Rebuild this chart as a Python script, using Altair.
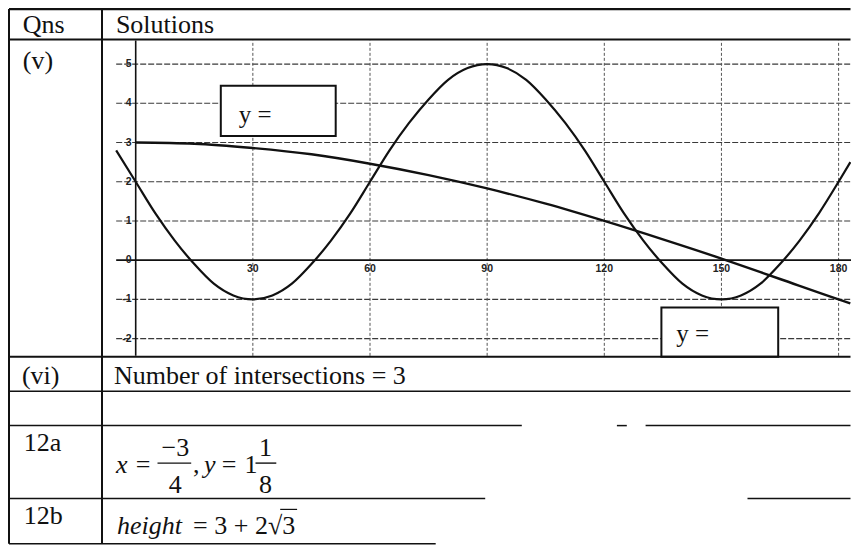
import altair as alt
import pandas as pd

# ---- values ----
sine_x = [-5, 0, 5, 10, 15, 20, 25, 30, 35, 40, 45, 50, 55, 60, 65, 70, 75, 80, 85, 90,
          95, 100, 105, 110, 115, 120, 125, 130, 135, 140, 145, 150, 155, 160, 165, 170,
          175, 180, 183]
sine_y = [2.8, 2.0, 1.2, 0.5, -0.1, -0.6, -0.9, -1.0, -0.9, -0.6, -0.1, 0.5, 1.2, 2.0,
          2.8, 3.5, 4.1, 4.6, 4.9, 5.0, 4.9, 4.6, 4.1, 3.5, 2.8, 2.0, 1.2, 0.5, -0.1,
          -0.6, -0.9, -1.0, -0.9, -0.6, -0.1, 0.5, 1.2, 2.0, 2.5]
curve_x = [0, 15, 30, 45, 60, 75, 90, 105, 120, 135, 150, 165, 180, 183]
curve_y = [3.0, 2.97, 2.86, 2.7, 2.46, 2.17, 1.83, 1.44, 1.0, 0.53, 0.04, -0.48, -1.0, -1.1]

x_ticks = [30, 60, 90, 120, 150, 180]
x_tick_labels = ["30", "60", "90", "120", "150", "180"]
y_ticks = [5, 4, 3, 2, 1, 0, -1, -2]
y_tick_labels = ["5", "4", "3", "2", "1", "0", "-1", "-2"]

# ---- page layout (scan geometry) ----
W, H = 843, 538


def X(r):
    return round((r - 8) * 0.99, 1)


def Y(r):
    return round((r - 8) * 0.985, 1)


FONT = "Liberation Serif"
INK = "#111111"

xs = alt.Scale(domain=[0, 180], range=[X(137), X(847)], nice=False, zero=False)
ys = alt.Scale(domain=[-2, 5], range=[Y(343.6), Y(65)], nice=False, zero=False)

sine_df = pd.DataFrame({"x": sine_x, "y": sine_y})
curve_df = pd.DataFrame({"x": curve_x, "y": curve_y})
hgrid_df = pd.DataFrame({"y": [t for t in y_ticks if t != 0]})
hgrid_df["x"] = -5
hgrid_df["x2"] = 186
vgrid_df = pd.DataFrame({"x": x_ticks})
vgrid_df["y"] = -2.44
vgrid_df["y2"] = 5.6
axis_h = pd.DataFrame({"x": [-5], "x2": [186], "y": [0]})
axis_v = pd.DataFrame({"x": [0], "y": [-2.44], "y2": [5.6]})
xlab_df = pd.DataFrame({"x": x_ticks, "label": x_tick_labels})
xlab_df["y"] = 0
ylab_df = pd.DataFrame({"y": y_ticks, "label": y_tick_labels})
ylab_df["x"] = 0

hgrid = alt.Chart(hgrid_df).mark_rule(color="#3a3a3a", strokeWidth=1.1, strokeDash=[6, 2]).encode(
    x=alt.X("x:Q", scale=xs, axis=None), x2="x2:Q", y=alt.Y("y:Q", scale=ys, axis=None))
vgrid = alt.Chart(vgrid_df).mark_rule(color="#555", strokeWidth=1, strokeDash=[3, 2]).encode(
    x=alt.X("x:Q", scale=xs, axis=None), y=alt.Y("y:Q", scale=ys, axis=None), y2="y2:Q")
ax_h = alt.Chart(axis_h).mark_rule(color=INK, strokeWidth=1.6).encode(
    x=alt.X("x:Q", scale=xs, axis=None), x2="x2:Q", y=alt.Y("y:Q", scale=ys, axis=None))
ax_v = alt.Chart(axis_v).mark_rule(color=INK, strokeWidth=1.6).encode(
    x=alt.X("x:Q", scale=xs, axis=None), y=alt.Y("y:Q", scale=ys, axis=None), y2="y2:Q")
sine = alt.Chart(sine_df).mark_line(color=INK, strokeWidth=2.2, interpolate="monotone").encode(
    x=alt.X("x:Q", scale=xs, axis=None), y=alt.Y("y:Q", scale=ys, axis=None))
curve = alt.Chart(curve_df).mark_line(color=INK, strokeWidth=2.4, interpolate="monotone").encode(
    x=alt.X("x:Q", scale=xs, axis=None), y=alt.Y("y:Q", scale=ys, axis=None))
xlab = alt.Chart(xlab_df).mark_text(font="Liberation Sans", fontSize=10.5, fontWeight="bold",
                                    color="#222", align="center", baseline="top", dy=4).encode(
    x=alt.X("x:Q", scale=xs, axis=None), y=alt.Y("y:Q", scale=ys, axis=None), text="label:N")
ylab = alt.Chart(ylab_df).mark_text(font="Liberation Sans", fontSize=10.5, fontWeight="bold",
                                    color="#222", align="right", baseline="middle", dx=-4).encode(
    x=alt.X("x:Q", scale=xs, axis=None), y=alt.Y("y:Q", scale=ys, axis=None), text="label:N")

# ---- table frame ----
hl = [(9, 9, 859, 2.5), (40, 9, 859, 2), (362, 9, 859, 2), (397, 9, 859, 1.5),
      (432, 9, 527, 1.5), (432, 623, 633, 1.5), (432, 652, 859, 1.5),
      (506, 9, 490, 1.5), (506, 755, 859, 1.5), (552, 9, 440, 1.5),
      (470, 159, 193, 1.4), (470, 258, 279, 1.4), (517, 283, 300, 1.2)]
vl = [(9, 9, 552, 2), (103, 9, 552, 2)]
hl_df = pd.DataFrame([{"px": X(a), "px2": X(b), "py": Y(y), "w": w} for y, a, b, w in hl])
vl_df = pd.DataFrame([{"px": X(x), "py": Y(a), "py2": Y(b), "w": w} for x, a, b, w in vl])

frame_h = alt.Chart(hl_df).mark_rule(color=INK).encode(
    x=alt.X("px:Q", scale=None), x2="px2:Q", y=alt.Y("py:Q", scale=None),
    strokeWidth=alt.StrokeWidth("w:Q", scale=None))
frame_v = alt.Chart(vl_df).mark_rule(color=INK).encode(
    x=alt.X("px:Q", scale=None), y=alt.Y("py:Q", scale=None), y2="py2:Q",
    strokeWidth=alt.StrokeWidth("w:Q", scale=None))

boxes = [(223, 87, 339, 138), (668, 312, 786, 362)]
box_df = pd.DataFrame([{"px": X(a), "px2": X(c), "py": Y(b), "py2": Y(d)} for a, b, c, d in boxes])
box = alt.Chart(box_df).mark_rect(fill="white", stroke=INK, strokeWidth=2).encode(
    x=alt.X("px:Q", scale=None), x2="px2:Q", y=alt.Y("py:Q", scale=None), y2="py2:Q")

texts_left = [("Qns", 23, 33, 26), ("Solutions", 117, 33, 26), ("(v)", 23, 70, 26),
              ("(vi)", 22, 390, 26), ("Number of intersections = 3", 115, 390, 26),
              ("12a", 24, 458, 26), ("12b", 24, 532, 26),
              ("=", 137, 480, 26), (",", 195, 480, 26), ("=", 224, 480, 26), ("1", 247, 480, 26),
              ("= 3 + 2√3", 195, 542, 26), ("y =", 241, 125, 25), ("y =", 683, 347, 25)]
texts_center = [("−3", 177, 463, 26), ("4", 177, 500, 26), ("1", 268, 463, 26), ("8", 268, 500, 26)]
texts_italic = [("x", 117, 480, 26), ("y", 206, 480, 26), ("height", 118, 542, 26)]


def tdf(rows):
    return pd.DataFrame([{"t": t, "px": X(x), "py": Y(y), "s": s} for t, x, y, s in rows])


def tlayer(rows, **kw):
    return alt.Chart(tdf(rows)).mark_text(font=FONT, color=INK, baseline="alphabetic", **kw).encode(
        x=alt.X("px:Q", scale=None), y=alt.Y("py:Q", scale=None), text="t:N",
        size=alt.Size("s:Q", scale=None))


t1 = tlayer(texts_left, align="left")
t2 = tlayer(texts_center, align="center")
t3 = tlayer(texts_italic, align="left", fontStyle="italic")

chart = alt.layer(
    hgrid, vgrid, ax_h, ax_v, sine, curve, xlab, ylab, box, frame_h, frame_v, t1, t2, t3
).properties(
    width=W, height=H, padding=0, background="white",
    autosize=alt.AutoSizeParams(type="none"),
).configure_view(stroke=None)

chart.save("out.html", embed_options={"renderer": "svg", "actions": False})
